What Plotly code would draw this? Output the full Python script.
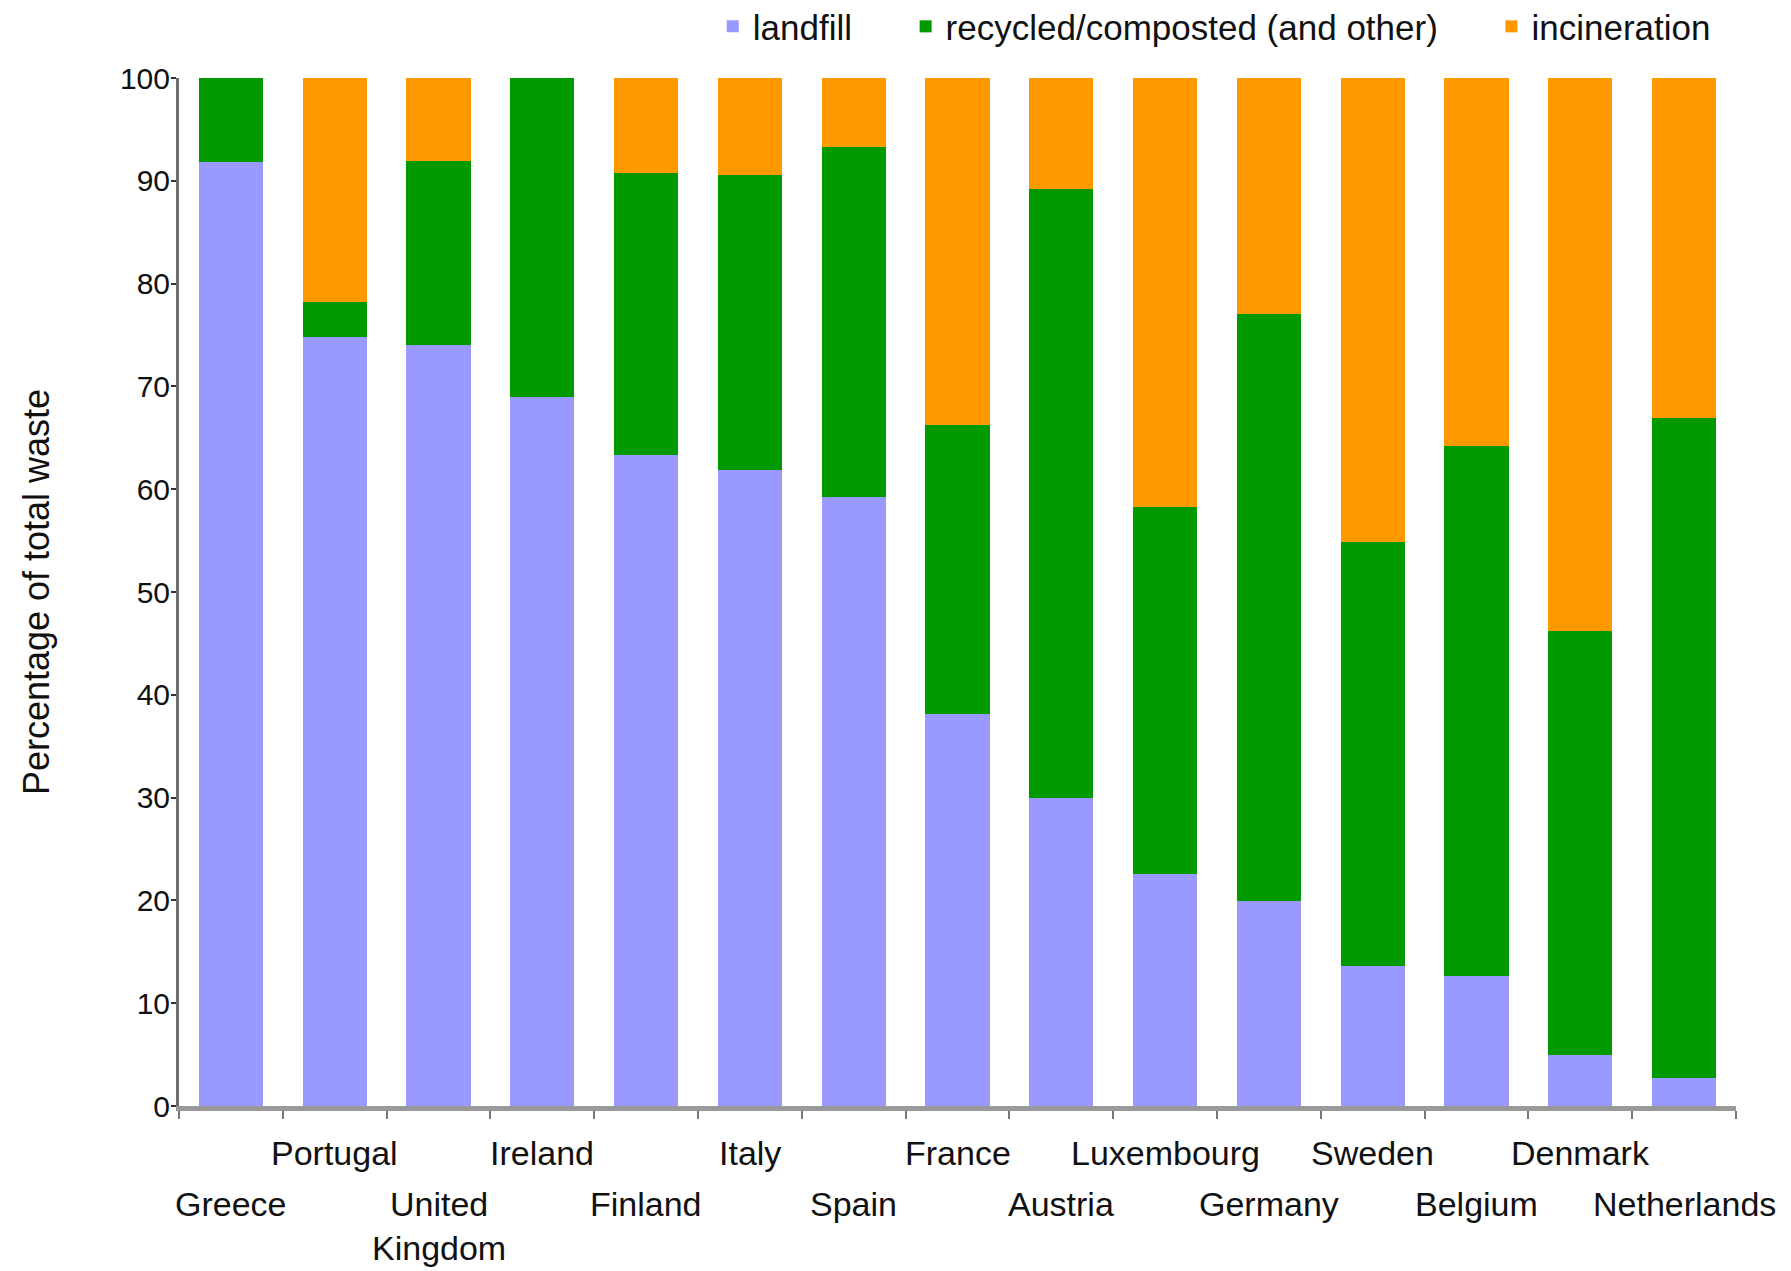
import plotly.graph_objects as go

countries = ["Greece", "Portugal", "United Kingdom", "Ireland", "Finland", "Italy", "Spain",
             "France", "Austria", "Luxembourg", "Germany", "Sweden", "Belgium", "Denmark", "Netherlands"]
tick_labels = ["Greece", "Portugal", "United<br>Kingdom", "Ireland", "Finland", "Italy", "Spain",
               "France", "Austria", "Luxembourg", "Germany", "Sweden", "Belgium", "Denmark", "Netherlands"]
landfill = [91.8, 74.8, 74.0, 69.0, 63.3, 61.9, 59.2, 38.1, 30.0, 22.6, 19.9, 13.6, 12.6, 5.0, 2.7]
recycled = [8.2, 3.4, 17.9, 31.0, 27.5, 28.7, 34.1, 28.1, 59.2, 35.7, 57.1, 41.3, 51.6, 41.2, 64.2]
incineration = [0.0, 21.8, 8.1, 0.0, 9.2, 9.4, 6.7, 33.8, 10.8, 41.7, 23.0, 45.1, 35.8, 53.8, 33.1]
y_ticks = [0, 10, 20, 30, 40, 50, 60, 70, 80, 90, 100]

FONT = "Liberation Sans, Arial, sans-serif"
GAP = "\u00a0" * 5

fig = go.Figure()
fig.add_trace(go.Bar(x=countries, y=landfill, name="landfill" + GAP,
                     marker=dict(color="#9999FF", line=dict(width=0))))
fig.add_trace(go.Bar(x=countries, y=recycled, name="recycled/composted (and other)" + GAP,
                     marker=dict(color="#009900", line=dict(width=0))))
fig.add_trace(go.Bar(x=countries, y=incineration, name="incineration",
                     marker=dict(color="#FF9900", line=dict(width=0))))

# staggered category labels
for i, (c, lab) in enumerate(zip(countries, tick_labels)):
    fig.add_annotation(x=c, xref="x", y=0, yref="paper", yanchor="top",
                       text=lab, showarrow=False,
                       yshift=-26 if i % 2 == 1 else -77,
                       font=dict(size=34, family=FONT, color="#111"))

fig.update_layout(
    width=1791, height=1271,
    margin=dict(l=179, r=55, t=78, b=165, autoexpand=False),
    barmode="stack",
    bargap=0.38,
    plot_bgcolor="white", paper_bgcolor="white",
    font=dict(family=FONT, color="#111", size=30),
    legend=dict(orientation="h", x=0.987, xanchor="right", y=1.05, yanchor="middle",
                font=dict(size=35, family=FONT), traceorder="normal", itemwidth=30),
    xaxis=dict(range=[-0.5, 14.5], showticklabels=False, ticks="outside", tickson="boundaries",
               ticklen=8, tickcolor="#777", tickwidth=2, showline=True, linecolor="#999999",
               linewidth=5, showgrid=False, zeroline=False),
    yaxis=dict(range=[0, 100], tickvals=y_ticks, ticks="outside", ticklen=5, tickwidth=2,
               tickcolor="#333", showline=True, linecolor="#6e6e6e", linewidth=3,
               showgrid=False, zeroline=False, ticklabelstandoff=-5,
               tickfont=dict(size=30, family=FONT, color="#111"),
               title=dict(text="Percentage of total waste", standoff=60,
                          font=dict(size=36, family=FONT, color="#111"))),
)

fig.write_html("out.html")
